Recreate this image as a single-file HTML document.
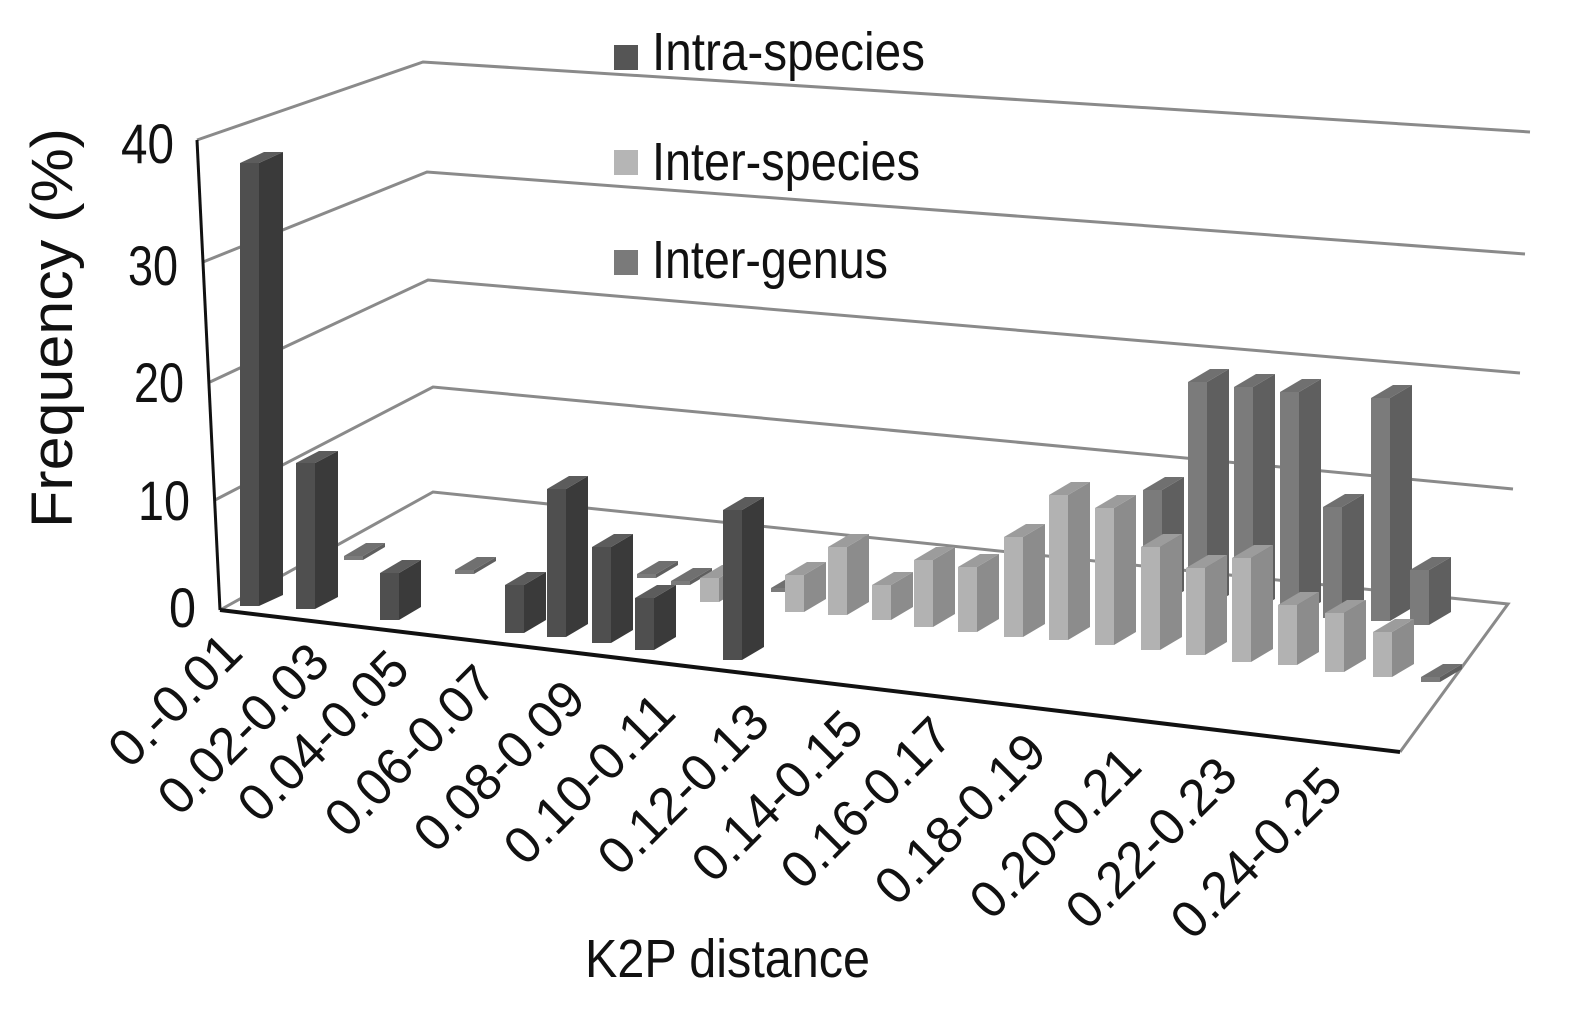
<!DOCTYPE html>
<html><head><meta charset="utf-8"><style>
html,body{margin:0;padding:0;background:#fff;}
svg{display:block;}
text{font-family:"Liberation Sans",Arial,sans-serif;fill:#111;}
.d .f{fill:#4f4f4f}.d .s{fill:#3a3a3a}.d .t{fill:#5c5c5c}
.g .f{fill:#7b7b7b}.g .s{fill:#5f5f5f}.g .t{fill:#707070}
.l .f{fill:#b2b2b2}.l .s{fill:#8c8c8c}.l .t{fill:#9c9c9c}
</style></head><body>
<svg width="1579" height="1015" viewBox="0 0 1579 1015" xmlns="http://www.w3.org/2000/svg">
<!-- gridlines -->
<g stroke="#8a8a8a" stroke-width="3" fill="none">
<polyline points="197,140 423,62 1530,132"/>
<polyline points="203,262 427,172 1525,254"/>
<polyline points="210,382 428,280 1520,373"/>
<polyline points="215,500 433,387 1513,489"/>
<polyline points="220,610 433,492 1508,604 1400,752"/>
</g>
<line x1="197" y1="140" x2="220" y2="610" stroke="#111" stroke-width="3"/>
<line x1="220" y1="610" x2="1400" y2="752" stroke="#111" stroke-width="4"/>

<!-- inter-genus -->
<g class="g">
<g transform="translate(344,556)"><path class="f" d="M0 0h19v4h-19z"/><path class="s" d="M19 0l22-13v4l-22 13z"/><path class="t" d="M0 0h19l22-13h-19z"/></g>
<g transform="translate(455,570)"><path class="f" d="M0 0h19v4h-19z"/><path class="s" d="M19 0l22-13v4l-22 13z"/><path class="t" d="M0 0h19l22-13h-19z"/></g>
<g transform="translate(637,574)"><path class="f" d="M0 0h19v4h-19z"/><path class="s" d="M19 0l22-13v4l-22 13z"/><path class="t" d="M0 0h19l22-13h-19z"/></g>
<g transform="translate(671,581)"><path class="f" d="M0 0h19v4h-19z"/><path class="s" d="M19 0l22-13v4l-22 13z"/><path class="t" d="M0 0h19l22-13h-19z"/></g>
<g transform="translate(771,588)"><path class="f" d="M0 0h19v4h-19z"/><path class="s" d="M19 0l22-13v4l-22 13z"/><path class="t" d="M0 0h19l22-13h-19z"/></g>
<g transform="translate(1143,490)"><path class="f" d="M0 0h19v114h-19z"/><path class="s" d="M19 0l22-13v114l-22 13z"/><path class="t" d="M0 0h19l22-13h-19z"/></g>
<g transform="translate(1188,382)"><path class="f" d="M0 0h19v226h-19z"/><path class="s" d="M19 0l22-13v226l-22 13z"/><path class="t" d="M0 0h19l22-13h-19z"/></g>
<g transform="translate(1234,387)"><path class="f" d="M0 0h19v225h-19z"/><path class="s" d="M19 0l22-13v225l-22 13z"/><path class="t" d="M0 0h19l22-13h-19z"/></g>
<g transform="translate(1280,392)"><path class="f" d="M0 0h19v223h-19z"/><path class="s" d="M19 0l22-13v223l-22 13z"/><path class="t" d="M0 0h19l22-13h-19z"/></g>
<g transform="translate(1323,507)"><path class="f" d="M0 0h19v111h-19z"/><path class="s" d="M19 0l22-13v111l-22 13z"/><path class="t" d="M0 0h19l22-13h-19z"/></g>
<g transform="translate(1371,398)"><path class="f" d="M0 0h19v223h-19z"/><path class="s" d="M19 0l22-13v223l-22 13z"/><path class="t" d="M0 0h19l22-13h-19z"/></g>
<g transform="translate(1410,570)"><path class="f" d="M0 0h19v55h-19z"/><path class="s" d="M19 0l22-13v55l-22 13z"/><path class="t" d="M0 0h19l22-13h-19z"/></g>
</g>

<!-- inter-species -->
<g class="l">
<g transform="translate(700,578)"><path class="f" d="M0 0h19v24h-19z"/><path class="s" d="M19 0l22-13v24l-22 13z"/><path class="t" d="M0 0h19l22-13h-19z"/></g>
<g transform="translate(785,575)"><path class="f" d="M0 0h19v37h-19z"/><path class="s" d="M19 0l22-13v37l-22 13z"/><path class="t" d="M0 0h19l22-13h-19z"/></g>
<g transform="translate(828,547)"><path class="f" d="M0 0h19v68h-19z"/><path class="s" d="M19 0l22-13v68l-22 13z"/><path class="t" d="M0 0h19l22-13h-19z"/></g>
<g transform="translate(872,585)"><path class="f" d="M0 0h19v35h-19z"/><path class="s" d="M19 0l22-13v35l-22 13z"/><path class="t" d="M0 0h19l22-13h-19z"/></g>
<g transform="translate(914,560)"><path class="f" d="M0 0h19v67h-19z"/><path class="s" d="M19 0l22-13v67l-22 13z"/><path class="t" d="M0 0h19l22-13h-19z"/></g>
<g transform="translate(958,567)"><path class="f" d="M0 0h19v65h-19z"/><path class="s" d="M19 0l22-13v65l-22 13z"/><path class="t" d="M0 0h19l22-13h-19z"/></g>
<g transform="translate(1004,537)"><path class="f" d="M0 0h19v100h-19z"/><path class="s" d="M19 0l22-13v100l-22 13z"/><path class="t" d="M0 0h19l22-13h-19z"/></g>
<g transform="translate(1049,495)"><path class="f" d="M0 0h19v145h-19z"/><path class="s" d="M19 0l22-13v145l-22 13z"/><path class="t" d="M0 0h19l22-13h-19z"/></g>
<g transform="translate(1095,508)"><path class="f" d="M0 0h19v137h-19z"/><path class="s" d="M19 0l22-13v137l-22 13z"/><path class="t" d="M0 0h19l22-13h-19z"/></g>
<g transform="translate(1141,547)"><path class="f" d="M0 0h19v103h-19z"/><path class="s" d="M19 0l22-13v103l-22 13z"/><path class="t" d="M0 0h19l22-13h-19z"/></g>
<g transform="translate(1186,568)"><path class="f" d="M0 0h19v87h-19z"/><path class="s" d="M19 0l22-13v87l-22 13z"/><path class="t" d="M0 0h19l22-13h-19z"/></g>
<g transform="translate(1232,558)"><path class="f" d="M0 0h19v104h-19z"/><path class="s" d="M19 0l22-13v104l-22 13z"/><path class="t" d="M0 0h19l22-13h-19z"/></g>
<g transform="translate(1278,605)"><path class="f" d="M0 0h19v60h-19z"/><path class="s" d="M19 0l22-13v60l-22 13z"/><path class="t" d="M0 0h19l22-13h-19z"/></g>
<g transform="translate(1325,613)"><path class="f" d="M0 0h19v59h-19z"/><path class="s" d="M19 0l22-13v59l-22 13z"/><path class="t" d="M0 0h19l22-13h-19z"/></g>
<g transform="translate(1373,632)"><path class="f" d="M0 0h19v45h-19z"/><path class="s" d="M19 0l22-13v45l-22 13z"/><path class="t" d="M0 0h19l22-13h-19z"/></g>
</g>
<g class="g">
<g transform="translate(1421,677)"><path class="f" d="M0 0h19v5h-19z"/><path class="s" d="M19 0l22-13v5l-22 13z"/><path class="t" d="M0 0h19l22-13h-19z"/></g>
</g>

<!-- intra-species -->
<g class="d">
<g transform="translate(240,163)"><path class="f" d="M0 0h19v443h-19z"/><path class="s" d="M19 0l24-11v443l-24 11z"/><path class="t" d="M0 0h19l24-11h-19z"/></g>
<g transform="translate(296,463)"><path class="f" d="M0 0h19v146h-19z"/><path class="s" d="M19 0l23-12v146l-23 12z"/><path class="t" d="M0 0h19l23-12h-19z"/></g>
<g transform="translate(380,573)"><path class="f" d="M0 0h19v47h-19z"/><path class="s" d="M19 0l22-13v47l-22 13z"/><path class="t" d="M0 0h19l22-13h-19z"/></g>
<g transform="translate(505,585)"><path class="f" d="M0 0h19v48h-19z"/><path class="s" d="M19 0l22-13v48l-22 13z"/><path class="t" d="M0 0h19l22-13h-19z"/></g>
<g transform="translate(547,489)"><path class="f" d="M0 0h19v148h-19z"/><path class="s" d="M19 0l22-13v148l-22 13z"/><path class="t" d="M0 0h19l22-13h-19z"/></g>
<g transform="translate(592,547)"><path class="f" d="M0 0h19v96h-19z"/><path class="s" d="M19 0l22-13v96l-22 13z"/><path class="t" d="M0 0h19l22-13h-19z"/></g>
<g transform="translate(635,598)"><path class="f" d="M0 0h19v52h-19z"/><path class="s" d="M19 0l22-13v52l-22 13z"/><path class="t" d="M0 0h19l22-13h-19z"/></g>
<g transform="translate(723,510)"><path class="f" d="M0 0h19v150h-19z"/><path class="s" d="M19 0l22-13v150l-22 13z"/><path class="t" d="M0 0h19l22-13h-19z"/></g>
</g>

<!-- legend -->
<rect x="614" y="45" width="24" height="25" fill="#555"/>
<text x="652" y="70" font-size="54" textLength="273" lengthAdjust="spacingAndGlyphs">Intra-species</text>
<rect x="614" y="150" width="24" height="25" fill="#b5b5b5"/>
<text x="652" y="180" font-size="54" textLength="268" lengthAdjust="spacingAndGlyphs">Inter-species</text>
<rect x="614" y="250" width="24" height="25" fill="#7a7a7a"/>
<text x="652" y="278" font-size="54" textLength="236" lengthAdjust="spacingAndGlyphs">Inter-genus</text>

<!-- y ticks -->
<g font-size="56" text-anchor="end">
<text x="174" y="163" textLength="53" lengthAdjust="spacingAndGlyphs">40</text>
<text x="178" y="285" textLength="50" lengthAdjust="spacingAndGlyphs">30</text>
<text x="184" y="402" textLength="50" lengthAdjust="spacingAndGlyphs">20</text>
<text x="190" y="520" textLength="52" lengthAdjust="spacingAndGlyphs">10</text>
<text x="196" y="627" textLength="27" lengthAdjust="spacingAndGlyphs">0</text>
</g>
<text transform="translate(72,328) rotate(-90)" font-size="58" text-anchor="middle" textLength="400" lengthAdjust="spacingAndGlyphs">Frequency (%)</text>
<text x="585" y="977" font-size="54" textLength="285" lengthAdjust="spacingAndGlyphs">K2P distance</text>

<!-- x labels -->
<g font-size="52" text-anchor="end">
<text transform="translate(245,655) rotate(-45)" textLength="163" lengthAdjust="spacingAndGlyphs">0.-0.01</text>
<text transform="translate(332,665) rotate(-45)" textLength="216" lengthAdjust="spacingAndGlyphs">0.02-0.03</text>
<text transform="translate(412,672) rotate(-45)" textLength="216" lengthAdjust="spacingAndGlyphs">0.04-0.05</text>
<text transform="translate(499,687) rotate(-45)" textLength="216" lengthAdjust="spacingAndGlyphs">0.06-0.07</text>
<text transform="translate(588,702) rotate(-45)" textLength="216" lengthAdjust="spacingAndGlyphs">0.08-0.09</text>
<text transform="translate(678,715) rotate(-45)" textLength="216" lengthAdjust="spacingAndGlyphs">0.10-0.11</text>
<text transform="translate(772,725) rotate(-45)" textLength="216" lengthAdjust="spacingAndGlyphs">0.12-0.13</text>
<text transform="translate(866,732) rotate(-45)" textLength="216" lengthAdjust="spacingAndGlyphs">0.14-0.15</text>
<text transform="translate(955,739) rotate(-45)" textLength="216" lengthAdjust="spacingAndGlyphs">0.16-0.17</text>
<text transform="translate(1049,755) rotate(-45)" textLength="216" lengthAdjust="spacingAndGlyphs">0.18-0.19</text>
<text transform="translate(1144,769) rotate(-45)" textLength="216" lengthAdjust="spacingAndGlyphs">0.20-0.21</text>
<text transform="translate(1240,779) rotate(-45)" textLength="216" lengthAdjust="spacingAndGlyphs">0.22-0.23</text>
<text transform="translate(1345,789) rotate(-45)" textLength="216" lengthAdjust="spacingAndGlyphs">0.24-0.25</text>
</g>
</svg>
</body></html>
